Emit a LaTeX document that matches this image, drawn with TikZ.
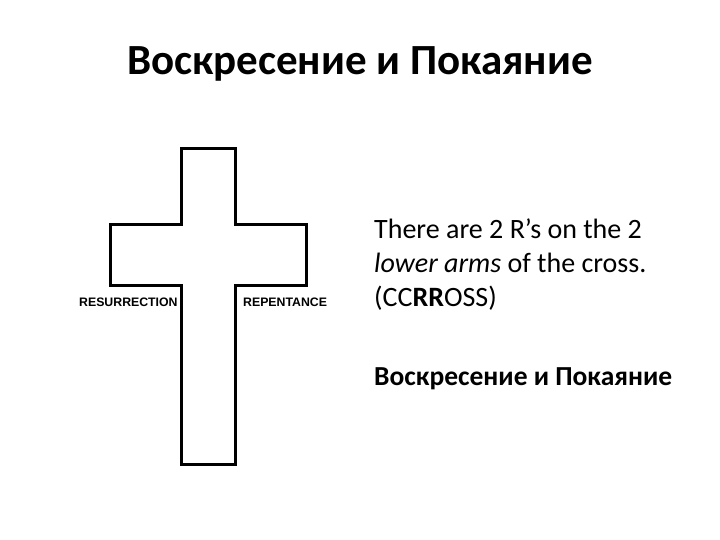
\documentclass[tikz,border=0pt]{standalone}
\usepackage{fontspec}
\setmainfont{Carlito}
\newfontfamily\arialfont{Liberation Sans}
\begin{document}
\begin{tikzpicture}[x=1pt,y=-1pt,
  crosslabel/.style={font=\arialfont\bfseries\fontsize{12.3}{14}\selectfont, inner sep=0pt, anchor=west},
  bodyline/.style={font=\fontsize{28}{34}\selectfont, inner sep=0pt, anchor=base west}]
\useasboundingbox (0,0) rectangle (720,540);
\node[font=\bfseries\fontsize{43}{50}\selectfont, inner sep=0pt] (title) at (360,64) {Воскресение и Покаяние};
\draw[line width=3pt, line join=miter] (181,149) -- (235,149) -- (235,225) -- (306,225) -- (306,285)
  -- (235,285) -- (235,464) -- (181,464) -- (181,285) -- (110,285) -- (110,225) -- (181,225) -- cycle;
\node[crosslabel] (res) at (79,302) {RESURRECTION};
\node[crosslabel] (rep) at (243,302) {REPENTANCE};
\node[bodyline] (l1) at (374,238) {There are 2 R’s on the 2};
\node[bodyline] (l2) at (374,272) {\itshape lower arms\upshape{} of the cross.};
\node[bodyline] (l3) at (374,306) {(CC\textbf{RR}OSS)};
\node[bodyline, font=\bfseries\fontsize{27.5}{34}\selectfont] (l4) at (374,385) {Воскресение и Покаяние};
\end{tikzpicture}
\end{document}
